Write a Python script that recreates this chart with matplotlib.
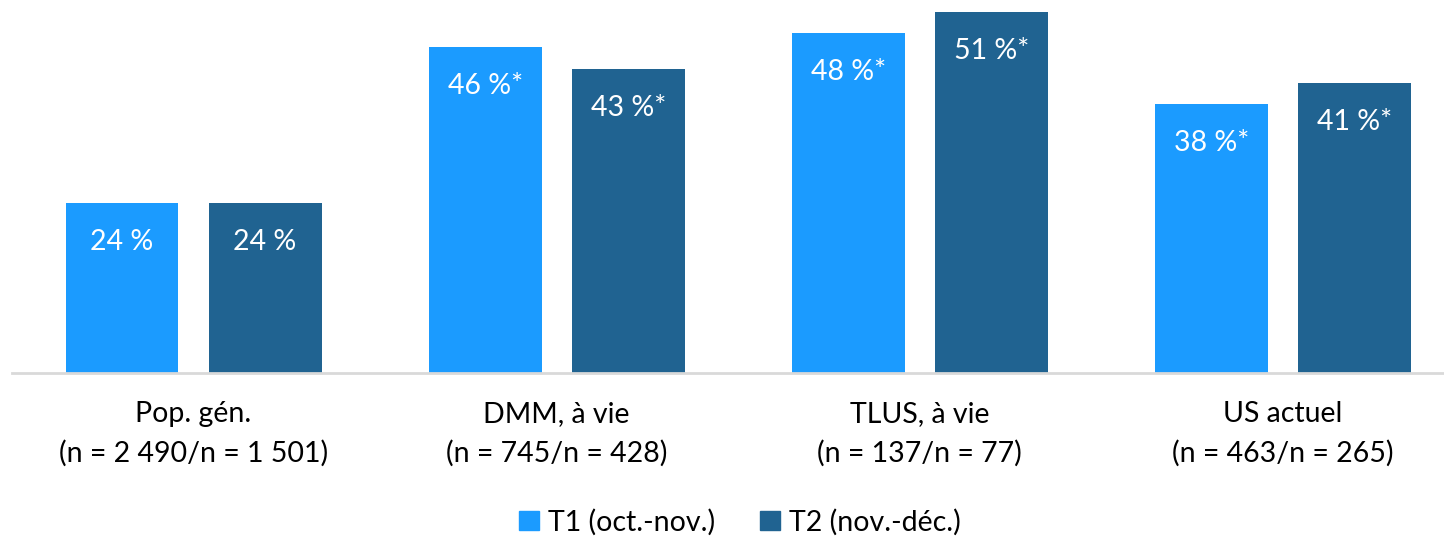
import numpy as np
import matplotlib.pyplot as plt
from matplotlib.patches import Patch

plt.rcParams['font.family'] = ['Lato', 'DejaVu Sans']

# ── données ─────────────────────────────────────────────
categories = ["Pop. gén.\n(n = 2 490/n = 1 501)",
              "DMM, à vie\n(n = 745/n = 428)",
              "TLUS, à vie\n(n = 137/n = 77)",
              "US actuel\n(n = 463/n = 265)"]
t1_values = [24, 46, 48, 38]
t2_values = [24, 43, 51, 41]
t1_labels = ["24 %", "46 %*", "48 %*", "38 %*"]
t2_labels = ["24 %", "43 %*", "51 %*", "41 %*"]
series_names = ["T1 (oct.-nov.)", "T2 (nov.-déc.)"]

c_t1 = "#1B9BFF"
c_t2 = "#206391"

fig = plt.figure(figsize=(14.44, 5.39), dpi=100)
ax = fig.add_axes([12 / 1444, (539 - 373) / 539, 1 - 12 / 1444, 373 / 539])

x = np.arange(len(categories))
w = 0.311
off = 0.197
b1 = ax.bar(x - off, t1_values, w, color=c_t1)
b2 = ax.bar(x + off, t2_values, w, color=c_t2)

# étiquettes dans les barres
for bars, labels in ((b1, t1_labels), (b2, t2_labels)):
    for b, lab in zip(bars, labels):
        ax.annotate(lab, (b.get_x() + b.get_width() / 2, b.get_height()),
                    xytext=(0, -39), textcoords="offset pixels",
                    ha="center", va="center", color="white", fontsize=20.5)

ax.set_xlim(-0.5, (1444 - 194) / 363)
ax.set_ylim(0, 373 / 7.08)
ax.set_yticks([])
ax.set_xticks(x)
ax.set_xticklabels(categories, fontsize=20.5, linespacing=1.6)
ax.tick_params(axis="x", length=0, pad=20)
for s in ("top", "right", "left"):
    ax.spines[s].set_visible(False)
ax.spines["bottom"].set_color("#D9D9D9")
ax.spines["bottom"].set_linewidth(2)

handles = [Patch(color=c_t1, label=series_names[0]),
           Patch(color=c_t2, label=series_names[1])]
fig.legend(handles=handles, loc="center", bbox_to_anchor=(740 / 1444, 1 - 522 / 539),
           ncol=2, frameon=False, fontsize=20.5, handlelength=0.7, handleheight=0.7,
           handletextpad=0.3, columnspacing=1.6)

fig.savefig("out.png", dpi=100)
